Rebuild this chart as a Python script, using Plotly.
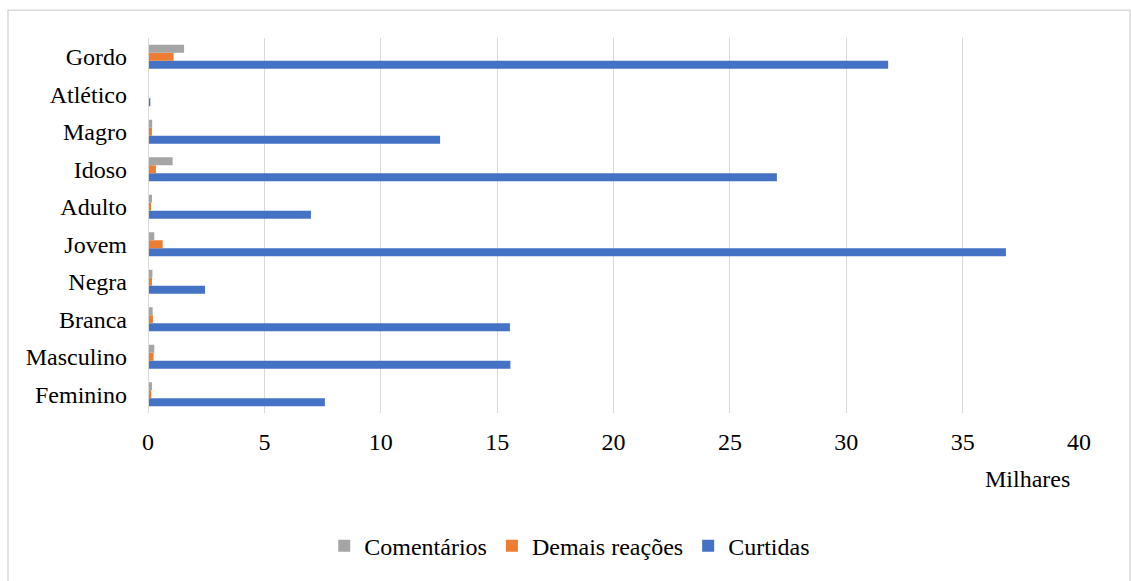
import plotly.graph_objects as go

# Categories listed bottom-to-top
categorias = ["Feminino", "Masculino", "Branca", "Negra", "Jovem",
              "Adulto", "Idoso", "Magro", "Atlético", "Gordo"]

# Values in thousands
curtidas = [7.6, 15.57, 15.55, 2.45, 36.86, 7.0, 27.02, 12.55, 0.1, 31.8]
demais_reacoes = [0.14, 0.24, 0.21, 0.17, 0.63, 0.13, 0.34, 0.17, 0.0, 1.1]
comentarios = [0.17, 0.27, 0.2, 0.19, 0.27, 0.17, 1.06, 0.18, 0.0, 1.55]

x_ticks = [0, 5, 10, 15, 20, 25, 30, 35, 40]

FONT = "Liberation Serif, Times New Roman, serif"
FS = 24

fig = go.Figure()
fig.add_trace(go.Bar(y=categorias, x=curtidas, name="Curtidas",
                     orientation="h", marker=dict(color="#4472C4", line_width=0)))
fig.add_trace(go.Bar(y=categorias, x=demais_reacoes, name="Demais reações",
                     orientation="h", marker=dict(color="#ED7D31", line_width=0)))
fig.add_trace(go.Bar(y=categorias, x=comentarios, name="Comentários",
                     orientation="h", marker=dict(color="#A5A5A5", line_width=0)))

fig.update_layout(
    width=1131, height=581,
    margin=dict(l=148, r=52, t=38, b=166),
    paper_bgcolor="white", plot_bgcolor="white",
    barmode="group", bargap=0.36, bargroupgap=0,
    font=dict(family=FONT, size=FS, color="#000000"),
    showlegend=True,
    legend=dict(orientation="h", traceorder="reversed",
                x=0.453, xanchor="center", y=-0.355, yanchor="middle",
                font=dict(family=FONT, size=FS), itemwidth=30,
                itemsizing="constant"),
    xaxis=dict(range=[0, 40], tickvals=x_ticks, showgrid=True,
               gridcolor="#D9D9D9", gridwidth=1, zeroline=False,
               showline=False, ticks="", ticklabelstandoff=12,
               tickfont=dict(family=FONT, size=FS)),
    yaxis=dict(type="category", categoryorder="array", categoryarray=categorias,
               showgrid=False, zeroline=False, showline=False, ticks="",
               ticklabelstandoff=20, tickfont=dict(family=FONT, size=FS)),
    shapes=[
        # axis line at zero
        dict(type="line", xref="x", yref="paper", x0=0, x1=0, y0=0, y1=1,
             line=dict(color="#D9D9D9", width=2)),
        # chart area border
        dict(type="rect", xref="paper", yref="paper",
             x0=(8 - 148) / 931, x1=(1130 - 148) / 931,
             y0=(415 - 585) / 377, y1=(415 - 10) / 377,
             line=dict(color="#D9D9D9", width=1.5), fillcolor="rgba(0,0,0,0)",
             layer="below"),
    ],
    annotations=[
        dict(text="Milhares", xref="paper", yref="paper",
             x=(1072 - 148) / 931, y=(415 - 481) / 377,
             xanchor="right", yanchor="middle", showarrow=False,
             font=dict(family=FONT, size=FS)),
    ],
)

fig.write_html("out.html")
